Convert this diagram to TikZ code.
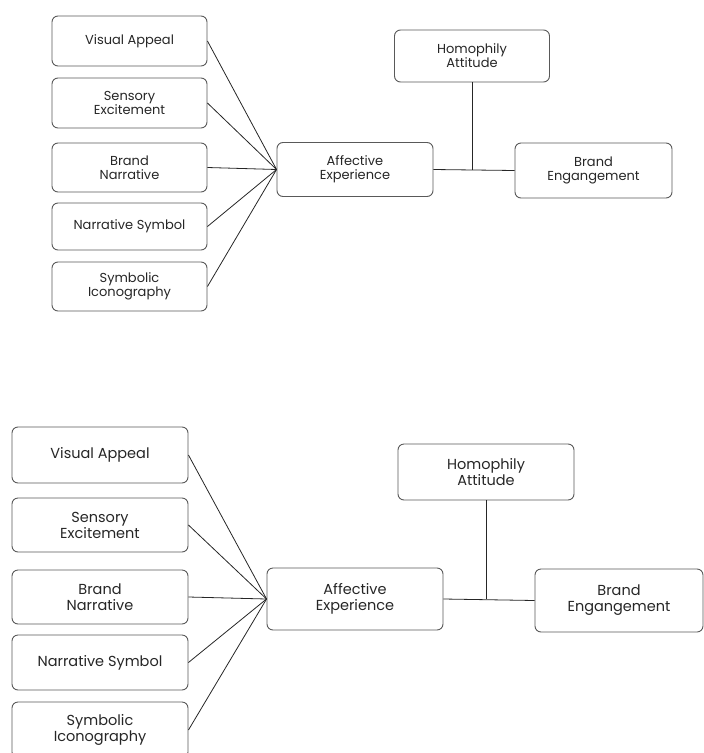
\documentclass[tikz,border=0pt]{standalone}
\usepackage{fontspec}
\setmainfont{Poppins}
\usetikzlibrary{positioning}

\begin{document}
\begin{tikzpicture}[
			x=1pt, y=-1pt,
			box/.style={
				draw=black!65,
				line width=0.9pt,
				rectangle,
				rounded corners=6pt,
				inner sep=0pt,
				align=center,
				text=black!85
			},
			smallbox/.style={box, minimum width=155pt, minimum height=50pt, font=\fontsize{13}{14}\selectfont},
			bigbox/.style={box, minimum width=176pt, minimum height=55pt, font=\fontsize{14.5}{16}\selectfont},
			link/.style={draw=black!85, line width=0.8pt}
			]
			\useasboundingbox (0,0) rectangle (704,753);
			
			% Upper copy of the model
			\foreach \name/\ypos/\hgt/\txt in {
				va/41/50/{Visual Appeal},
				se/103/50/{Sensory\\Excitement},
				bn/167.5/49/{Brand\\Narrative},
				ns/226.5/47/{Narrative Symbol},
				si/286.5/49/{Symbolic\\Iconography}}
			\node[smallbox, minimum height=\hgt pt] (t\name) at (129.5,\ypos) {\txt};
			\node[smallbox, minimum width=156pt, minimum height=54pt] (tae) at (355,169.5) {Affective\\Experience};
			\node[smallbox, minimum height=52pt] (tha) at (472,56) {Homophily\\Attitude};
			\node[smallbox, minimum width=157pt, minimum height=55pt] (tbe) at (593.5,170.5) {Brand\\Engangement};
			
			\foreach \name in {va,se,bn,ns,si}
			\draw[link] (t\name.east) -- (tae.west);
			\draw[link] (tae.east) -- (tbe.west);
			\coordinate (tj) at (tha.south |- tae.east);
			\draw[link] (tha.south) -- (tj);
			
			% Lower copy, drawn larger
			\foreach \name/\ypos/\hgt/\txt in {
				va/455/56/{Visual Appeal},
				se/525/54/{Sensory\\Excitement},
				bn/597/54/{Brand\\Narrative},
				ns/662.5/55/{Narrative Symbol},
				si/730/56/{Symbolic\\Iconography}}
			\node[bigbox, minimum height=\hgt pt] (b\name) at (100,\ypos) {\txt};
			\node[bigbox, minimum height=62pt] (bae) at (355,599) {Affective\\Experience};
			\node[bigbox, minimum height=56pt] (bha) at (486,472) {Homophily\\Attitude};
			\node[bigbox, minimum width=168pt, minimum height=63pt] (bbe) at (619,600.5) {Brand\\Engangement};
			
			\foreach \name in {va,se,bn,ns,si}
			\draw[link] (b\name.east) -- (bae.west);
			\draw[link] (bae.east) -- (bbe.west);
			\coordinate (bj) at (bha.south |- bae.east);
			\draw[link] (bha.south) -- (bj);
		\end{tikzpicture}
\end{document}
